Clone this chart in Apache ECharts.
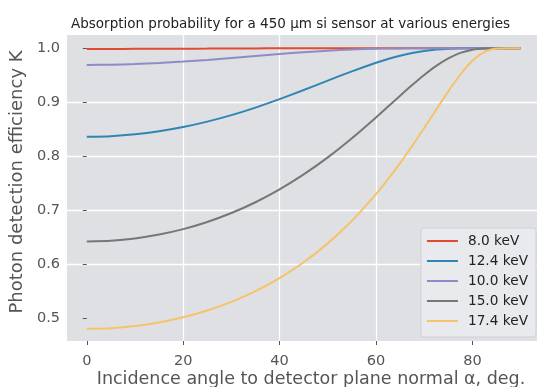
<!DOCTYPE html>
<html>
<head>
<meta charset="utf-8">
<script src="https://cdn.jsdelivr.net/npm/echarts@6/dist/echarts.min.js"></script>
<style>
  html, body { margin: 0; padding: 0; background: #fff; }
  #chart { width: 537px; height: 387px; }
</style>
</head>
<body>
<div id="chart"></div>
<script>
const angles = [0, 5, 10, 15, 20, 25, 30, 35, 40, 45, 50, 55, 60,
  62.5, 65, 67.5, 70, 72.5, 75, 77.5, 80, 82.5, 85, 87.5, 90];

const k8_0 = [0.9987, 0.9987, 0.9988, 0.9990, 0.9992, 0.9993, 0.9995, 0.9997, 0.9998, 0.9999, 1.0, 1.0, 1.0,
  1.0, 1.0, 1.0, 1.0, 1.0, 1.0, 1.0, 1.0, 1.0, 1.0, 1.0, 1.0];
const k12_4 = [0.8360, 0.8371, 0.8405, 0.8462, 0.8540, 0.8640, 0.8760, 0.8900, 0.9056, 0.9225, 0.9400, 0.9572, 0.9731,
  0.9801, 0.9861, 0.9911, 0.9949, 0.9976, 0.9991, 0.9998, 1.0, 1.0, 1.0, 1.0, 1.0];
const k10_0 = [0.9690, 0.9694, 0.9706, 0.9726, 0.9752, 0.9784, 0.9819, 0.9856, 0.9893, 0.9926, 0.9955, 0.9977, 0.9990,
  0.9995, 0.9997, 0.9999, 1.0, 1.0, 1.0, 1.0, 1.0, 1.0, 1.0, 1.0, 1.0];
const k15_0 = [0.6420, 0.6434, 0.6476, 0.6547, 0.6648, 0.6781, 0.6946, 0.7146, 0.7384, 0.7661, 0.7977, 0.8332, 0.8718,
  0.8919, 0.9120, 0.9317, 0.9504, 0.9672, 0.9811, 0.9913, 0.9973, 0.9996, 1.0, 1.0, 1.0];
const k17_4 = [0.4800, 0.4813, 0.4852, 0.4918, 0.5014, 0.5140, 0.5300, 0.5499, 0.5741, 0.6034, 0.6384, 0.6802, 0.7296,
  0.7574, 0.7872, 0.8189, 0.8522, 0.8863, 0.9200, 0.9513, 0.9769, 0.9933, 0.9994, 1.0, 1.0];

const xTicks = [0, 20, 40, 60, 80];
const yTicks = [0.5, 0.6, 0.7, 0.8, 0.9, 1.0];

const seriesNames = ['8.0 keV', '12.4 keV', '10.0 keV', '15.0 keV', '17.4 keV'];
const seriesData = [k8_0, k12_4, k10_0, k15_0, k17_4];
const colors = ['#E24A33', '#2F86B4', '#8F8BC6', '#777777', '#F6C36A'];

const font = 'DejaVu Sans';
const chart = echarts.init(document.getElementById('chart'));

const option = {
  animation: false,
  backgroundColor: '#ffffff',
  title: {
    text: 'Absorption probability for a 450 \u00b5m si sensor at various energies',
    left: 66,
    top: 12,
    textStyle: { fontFamily: font, fontSize: 13.5, fontWeight: 'normal', color: '#222' }
  },
  grid: {
    left: 67, top: 35, right: 0, bottom: 46,
    outerBoundsMode: 'none',
    containLabel: false,
    show: true, backgroundColor: '#dfe0e3', borderWidth: 0
  },
  legend: {
    orient: 'vertical',
    right: 1,
    top: 228,
    itemWidth: 31,
    itemHeight: 14,
    itemGap: 6,
    padding: [6, 8, 9, 5],
    backgroundColor: 'rgba(233,234,237,0.95)',
    borderColor: '#cfd0d3',
    borderWidth: 1,
    borderRadius: 3,
    itemStyle: { opacity: 0 },
    lineStyle: { width: 2 },
    textStyle: { fontFamily: font, fontSize: 13.7, lineHeight: 14, color: '#222', padding: [0, 0, 0, 5] },
    data: seriesNames
  },
  xAxis: {
    type: 'value',
    min: -4.1,
    max: 93.4,
    name: 'Incidence angle to detector plane normal \u03b1, deg.',
    nameLocation: 'middle',
    nameGap: 29,
    nameMoveOverlap: false,
    nameTextStyle: { fontFamily: font, fontSize: 17.5, color: '#555', padding: [0, 0, 0, 18] },
    axisLine: { show: false },
    axisTick: { show: true, length: 4, lineStyle: { color: '#555' }, customValues: xTicks },
    axisLabel: { fontFamily: font, fontSize: 14.5, color: '#555', margin: 13, customValues: xTicks },
    splitLine: { show: true, showMinLine: false, showMaxLine: false, lineStyle: { color: '#ffffff', width: 1.3 } }
  },
  yAxis: {
    type: 'value',
    min: 0.4575,
    max: 1.0245,
    name: 'Photon detection efficiency K',
    nameLocation: 'middle',
    nameGap: 35.5,
    nameTextStyle: { fontFamily: font, fontSize: 18, color: '#555', padding: [0, 0, 0, 12] },
    axisLine: { show: false },
    axisTick: { show: true, length: 4, lineStyle: { color: '#555' }, customValues: yTicks },
    axisLabel: {
      fontFamily: font, fontSize: 14.5, color: '#555', margin: 7,
      customValues: yTicks,
      formatter: v => v.toFixed(1)
    },
    splitLine: { show: true, showMinLine: false, showMaxLine: false, lineStyle: { color: '#ffffff', width: 1.3 } }
  },
  series: seriesNames.map((name, i) => ({
    name: name,
    type: 'line',
    symbol: 'none',
    smooth: 0.2,
    data: angles.map((a, j) => [a, seriesData[i][j]]),
    lineStyle: { color: colors[i], width: 2 },
    itemStyle: { color: colors[i] }
  }))
};

chart.setOption(option);
</script>
</body>
</html>
